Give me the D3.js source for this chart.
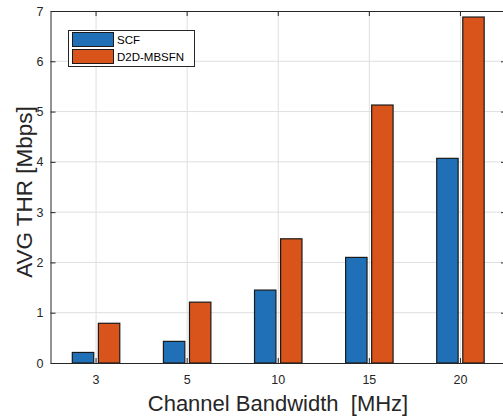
<!DOCTYPE html>
<html>
  <head>
    <meta charset="utf-8">
    <title>AVG THR vs channel bandwidth</title>
    <script src="https://cdn.jsdelivr.net/npm/d3@7/dist/d3.min.js"></script>
    <style>
      body { margin: 0; background: #fff; }
      svg { display: block; font-family: "Liberation Sans", Arial, sans-serif; }
      .tick text { fill: #262626; font-size: 12.5px; }
      .grid line { stroke: #dfdfdf; }
    </style>
  </head>

  <body>
    <div id="container"></div>

    <script>
      // data
      bandwidths = ["3", "5", "10", "15", "20"];
      seriesNames = ["SCF", "D2D-MBSFN"];
      scfValues = [0.21, 0.43, 1.45, 2.1, 4.07];
      mbsfnValues = [0.79, 1.21, 2.47, 5.13, 6.88];
      yTicks = [0, 1, 2, 3, 4, 5, 6, 7];

      colours = ["#2070b8", "#d9541a"];

      width = 503;
      height = 418;
      margin = {top: 11, right: -3, bottom: 55, left: 50.5};

      svg = d3.select("#container").append("svg")
        .attr("width", width)
        .attr("height", height);

      xScale = d3.scaleBand()
        .domain(bandwidths)
        .range([margin.left, width - margin.right]);
      yScale = d3.scaleLinear()
        .domain([0, 7])
        .range([height - margin.bottom, margin.top]);

      bw = xScale.bandwidth();
      barWidth = bw * 0.235;
      offset = bw * 0.143;

      // grid
      grid = svg.append("g").classed("grid", true);
      grid.selectAll(".gy")
          .data(yTicks.slice(1, -1))
        .enter().append("line")
          .attr("x1", margin.left)
          .attr("x2", width)
          .attr("y1", d => yScale(d))
          .attr("y2", d => yScale(d));
      grid.selectAll(".gx")
          .data(bandwidths)
        .enter().append("line")
          .attr("x1", d => xScale(d) + bw / 2)
          .attr("x2", d => xScale(d) + bw / 2)
          .attr("y1", yScale(0))
          .attr("y2", yScale(7));

      // bars
      series = [scfValues, mbsfnValues];
      series.forEach((vals, s) => {
        svg.append("g")
          .selectAll("rect")
            .data(vals)
          .enter().append("rect")
            .attr("x", (d, i) => xScale(bandwidths[i]) + bw / 2 + (s === 0 ? -offset : offset) - barWidth / 2)
            .attr("width", barWidth)
            .attr("y", d => yScale(d))
            .attr("height", d => yScale(0) - yScale(d))
            .style("fill", colours[s])
            .style("stroke", "#1a1a1a")
            .style("stroke-width", 1.2);
      });

      // axes
      svg.append("g")
        .attr("transform", "translate(0," + yScale(0) + ")")
        .call(d3.axisBottom(xScale).tickSizeInner(-5).tickSizeOuter(0).tickPadding(12))
        .call(g => g.select(".domain").attr("stroke", "#262626"))
        .call(g => g.selectAll(".tick line").attr("stroke", "#262626"));

      svg.append("g")
        .attr("transform", "translate(0," + yScale(7) + ")")
        .call(d3.axisTop(xScale).tickSizeInner(-5).tickSizeOuter(0).tickFormat(""))
        .call(g => g.select(".domain").attr("stroke", "#262626"))
        .call(g => g.selectAll(".tick line").attr("stroke", "#262626"));

      svg.append("g")
        .attr("transform", "translate(" + margin.left + ",0)")
        .call(d3.axisLeft(yScale).tickValues(yTicks).tickFormat(d3.format("d")).tickSizeInner(-5).tickSizeOuter(0).tickPadding(7))
        .call(g => g.select(".domain").attr("stroke", "#262626"))
        .call(g => g.selectAll(".tick line").attr("stroke", "#262626"));

      svg.append("g")
        .attr("transform", "translate(" + (width - margin.right) + ",0)")
        .call(d3.axisRight(yScale).tickValues(yTicks).tickSizeInner(-5).tickSizeOuter(0).tickFormat(""))
        .call(g => g.select(".domain").attr("stroke", "#262626"))
        .call(g => g.selectAll(".tick line").attr("stroke", "#262626"));

      // axis titles
      svg.append("text")
        .attr("x", 278)
        .attr("y", 411)
        .attr("text-anchor", "middle")
        .style("font-size", "22px")
        .style("white-space", "pre")
        .style("fill", "#262626")
        .text("Channel Bandwidth  [MHz]");

      svg.append("text")
        .attr("transform", "translate(32,192) rotate(-90)")
        .attr("text-anchor", "middle")
        .style("font-size", "22.5px")
        .style("fill", "#262626")
        .text("AVG THR [Mbps]");

      // legend
      legend = svg.append("g");
      legend.append("rect")
        .attr("x", 68.5).attr("y", 30.5)
        .attr("width", 126).attr("height", 36)
        .style("fill", "#fff")
        .style("stroke", "#262626");
      seriesNames.forEach((name, s) => {
        legend.append("rect")
          .attr("x", 72.5).attr("y", 32.5 + s * 17)
          .attr("width", 41).attr("height", 14)
          .style("fill", colours[s])
          .style("stroke", "#1a1a1a");
        legend.append("text")
          .attr("x", 117).attr("y", 44 + s * 17)
          .style("font-size", "11.5px")
          .style("fill", "#000")
          .text(name);
      });
    </script>
  </body>
</html>
